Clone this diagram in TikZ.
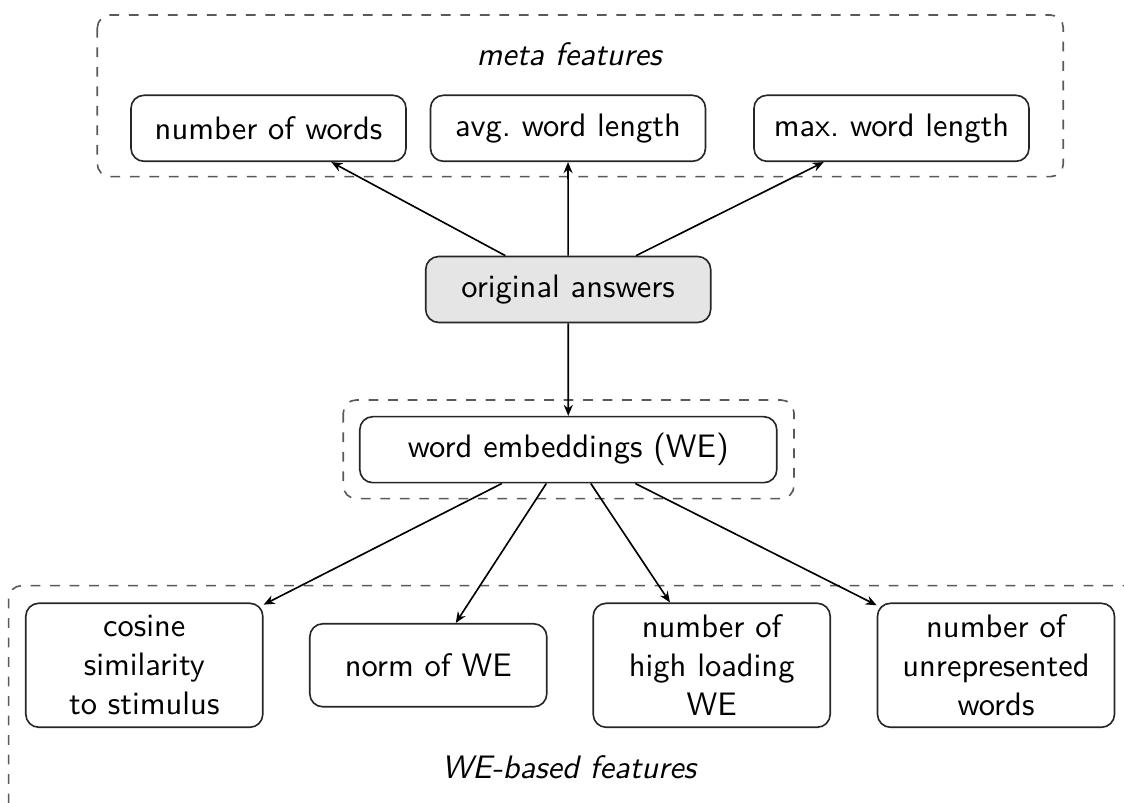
\documentclass[tikz,border=0pt]{standalone}
\usetikzlibrary{arrows.meta}
\begin{document}
\begin{tikzpicture}[x=0.3077pt, y=-0.3077pt,
  every node/.style={font=\sffamily},
  box/.style={draw=black!85, line width=0.5pt, rounded corners=4pt, align=center, inner sep=0pt},
  metabox/.style={box, minimum width=275*0.3077pt, minimum height=66*0.3077pt},
  webox/.style={box, minimum width=237*0.3077pt, minimum height=124*0.3077pt},
  group/.style={draw=black!65, line width=0.5pt, dashed, rounded corners=4pt},
  grouplabel/.style={font=\sffamily\itshape, inner sep=0pt},
  link/.style={line width=0.5pt, -{Stealth[length=3.4pt,width=2.8pt]}}]
  \useasboundingbox (0,0) rectangle (1124,803);
  \clip (0,0) rectangle (1124,803);

  % feature groups
  \draw[group] (97.3,15) rectangle (1063.3,176.7);
  \draw[group] (343.3,400) rectangle (794,498.7);
  \draw[group] (8.6,585.7) rectangle (1160,840);
  \node[grouplabel] (metalabel) at (569,54) {meta features};
  \node[grouplabel] (welabel) at (569,767) {WE-based features};

  % meta features
  \node[metabox] (nw)  at (268.5,128.3) {number of words};
  \node[metabox] (awl) at (568,128.3)   {avg.\ word length};
  \node[metabox] (mwl) at (891.5,128.3) {max.\ word length};

  % source and embeddings
  \node[box, fill=black!10, minimum width=285*0.3077pt, minimum height=66*0.3077pt]
    (oa) at (568.2,289.5) {original answers};
  \node[box, minimum width=417*0.3077pt, minimum height=66*0.3077pt]
    (we) at (568.3,449.7) {word embeddings (WE)};

  % WE-based features
  \node[webox] (cs) at (144.3,665.3) {cosine\\similarity\\to stimulus};
  \node[box, minimum width=237*0.3077pt, minimum height=83*0.3077pt]
    (nwe) at (428.3,665.3) {norm of WE};
  \node[webox] (hl) at (711.7,665.3) {number of\\high loading\\WE};
  \node[webox] (ur) at (996,665.3) {number of\\unrepresented\\words};

  % connectors
  \draw[link] (oa) -- (nw);
  \draw[link] (oa) -- (awl);
  \draw[link] (oa) -- (mwl);
  \draw[link] (oa) -- (we);
  \draw[link] (we) -- (cs);
  \draw[link] (we) -- (nwe);
  \draw[link] (we) -- (hl);
  \draw[link] (we) -- (ur);
\end{tikzpicture}
\end{document}
